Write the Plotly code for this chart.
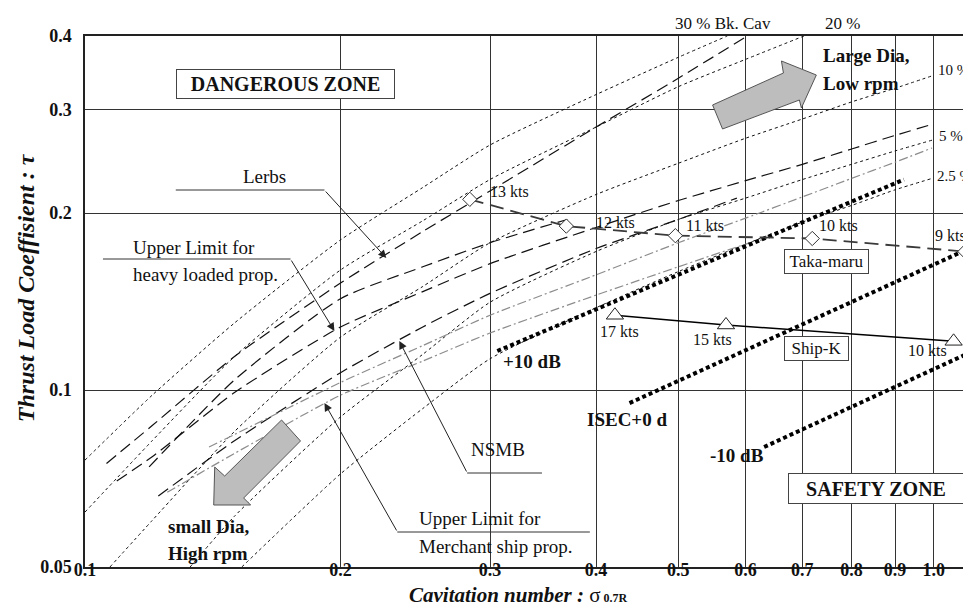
import math
import plotly.graph_objects as go

# ---------------- data ----------------
X_TICKS = [0.1, 0.2, 0.3, 0.4, 0.5, 0.6, 0.7, 0.8, 0.9, 1.0]
X_TICK_TEXT = ["0.1", "0.2", "0.3", "0.4", "0.5", "0.6", "0.7", "0.8", "0.9", "1.0"]
Y_TICKS = [0.05, 0.1, 0.2, 0.3, 0.4]
Y_TICK_TEXT = ["0.05", "0.1", "0.2", "0.3", "0.4"]

# Burrill back-cavitation lines (short dotted)
B30_SIGMA = [0.1, 0.12, 0.15, 0.2, 0.25, 0.3, 0.4, 0.5, 0.571]
B30_TAU = [0.076, 0.098, 0.130, 0.180, 0.221, 0.261, 0.318, 0.368, 0.400]
B20_SIGMA = [0.1, 0.12, 0.15, 0.2, 0.25, 0.3, 0.4, 0.5, 0.6, 0.703]
B20_TAU = [0.062, 0.082, 0.114, 0.160, 0.194, 0.228, 0.280, 0.328, 0.365, 0.400]
B10_SIGMA = [0.107, 0.12, 0.15, 0.2, 0.25, 0.3, 0.4, 0.5, 0.6, 0.7, 0.8, 0.9, 1.0]
B10_TAU = [0.050, 0.060, 0.085, 0.123, 0.150, 0.178, 0.215, 0.243, 0.268, 0.289, 0.309, 0.326, 0.343]
B5_SIGMA = [0.133, 0.15, 0.2, 0.25, 0.3, 0.4, 0.5, 0.6, 0.7, 0.8, 0.9, 0.995]
B5_TAU = [0.050, 0.061, 0.090, 0.115, 0.141, 0.172, 0.195, 0.212, 0.228, 0.242, 0.255, 0.266]
B25_SIGMA = [0.153, 0.2, 0.25, 0.3, 0.4, 0.5, 0.6, 0.7, 0.8, 0.9, 0.995]
B25_TAU = [0.050, 0.072, 0.093, 0.113, 0.138, 0.159, 0.177, 0.193, 0.206, 0.219, 0.229]

# criteria lines (long dash)
LERBS_SIGMA = [0.106, 0.12, 0.15, 0.2, 0.25, 0.3, 0.4, 0.5, 0.603]
LERBS_TAU = [0.075, 0.087, 0.114, 0.152, 0.186, 0.218, 0.280, 0.339, 0.400]
HEAVY_SIGMA = [0.109, 0.12, 0.15, 0.2, 0.25, 0.3, 0.4, 0.5, 0.6, 0.7, 0.8, 0.9, 0.987]
HEAVY_TAU = [0.070, 0.077, 0.099, 0.128, 0.147, 0.164, 0.189, 0.210, 0.227, 0.242, 0.257, 0.271, 0.282]
NSMB_SIGMA = [0.122, 0.15, 0.2, 0.25, 0.3, 0.4, 0.5, 0.586]
NSMB_TAU = [0.066, 0.082, 0.107, 0.128, 0.146, 0.174, 0.195, 0.212]
EXTRA_SIGMA = [0.119, 0.15, 0.2, 0.25, 0.3, 0.37]
EXTRA_TAU = [0.074, 0.104, 0.143, 0.162, 0.178, 0.195]

# grey dash-dot lines
MERCH_SIGMA = [0.125, 0.15, 0.2, 0.25, 0.3, 0.4, 0.5, 0.6, 0.636]
MERCH_TAU = [0.067, 0.078, 0.098, 0.112, 0.125, 0.145, 0.162, 0.177, 0.181]
GRAY2_SIGMA = [0.14, 0.15, 0.2, 0.25, 0.3, 0.4, 0.5, 0.6, 0.7, 0.8, 0.9, 0.995]
GRAY2_TAU = [0.080, 0.084, 0.103, 0.119, 0.134, 0.157, 0.178, 0.196, 0.213, 0.229, 0.244, 0.258]

# ship data
TAKA_SIGMA = [0.284, 0.369, 0.496, 0.719, 1.088]
TAKA_TAU = [0.211, 0.190, 0.183, 0.181, 0.172]
TAKA_LABELS = ["13 kts", "12 kts", "11 kts", "10 kts", "9 kts"]
SHIPK_SIGMA = [0.421, 0.569, 1.055]
SHIPK_TAU = [0.134, 0.129, 0.121]
SHIPK_LABELS = ["17 kts", "15 kts", "10 kts"]

# noise criteria lines
P10_SIGMA = [0.306, 0.922]
P10_TAU = [0.1165, 0.228]
ISEC_SIGMA = [0.438, 1.1]
ISEC_TAU = [0.095, 0.174]
M10_SIGMA = [0.631, 1.1]
M10_TAU = [0.080, 0.1156]

# ---------------- figure ----------------
FONT = "Liberation Serif"
W, H = 971, 610
L, R, T, B = 77, 8, 28, 51
PW, PH = W - L - R, H - T - B


def P(px, py):
    """pixel position in the page -> paper coordinates"""
    return (px - L) / PW, (H - B - py) / PH


fig = go.Figure()

DOT = "3px,3px"
LONG = "12px,6px"
DASHDOT = "9px,3px,2px,3px"


def add_line(xs, ys, color="black", dash=DOT, width=1.0):
    fig.add_trace(go.Scatter(x=xs, y=ys, mode="lines",
                             line=dict(color=color, dash=dash, width=width, shape="spline", smoothing=0.6),
                             hoverinfo="skip", showlegend=False))


for xs, ys in [(B30_SIGMA, B30_TAU), (B20_SIGMA, B20_TAU), (B10_SIGMA, B10_TAU),
               (B5_SIGMA, B5_TAU), (B25_SIGMA, B25_TAU)]:
    add_line(xs, ys, "#111", DOT, 1.0)

for xs, ys in [(LERBS_SIGMA, LERBS_TAU), (HEAVY_SIGMA, HEAVY_TAU),
               (NSMB_SIGMA, NSMB_TAU), (EXTRA_SIGMA, EXTRA_TAU)]:
    add_line(xs, ys, "#111", LONG, 1.2)

for xs, ys in [(MERCH_SIGMA, MERCH_TAU), (GRAY2_SIGMA, GRAY2_TAU)]:
    add_line(xs, ys, "#8c8c8c", DASHDOT, 1.2)

# noise lines (thick square dots)
for xs, ys in [(P10_SIGMA, P10_TAU), (ISEC_SIGMA, ISEC_TAU), (M10_SIGMA, M10_TAU)]:
    fig.add_trace(go.Scatter(x=xs, y=ys, mode="lines",
                             line=dict(color="black", dash="4px,3px", width=4),
                             hoverinfo="skip", showlegend=False))

# Taka-maru
fig.add_trace(go.Scatter(x=TAKA_SIGMA, y=TAKA_TAU, mode="lines+markers",
                         line=dict(color="#3a3a3a", dash="14px,7px", width=1.8),
                         marker=dict(symbol="diamond", size=11, color="white",
                                     line=dict(color="#333", width=1)),
                         hoverinfo="skip", showlegend=False))
# Ship-K
fig.add_trace(go.Scatter(x=SHIPK_SIGMA, y=SHIPK_TAU, mode="lines+markers",
                         line=dict(color="black", width=1.6),
                         marker=dict(symbol="triangle-up", size=15, color="white",
                                     line=dict(color="#222", width=1)),
                         hoverinfo="skip", showlegend=False))

ann = []


def text(px, py, s, size=17, bold=False, xanchor="center", **kw):
    x, y = P(px, py)
    ann.append(dict(x=x, y=y, xref="paper", yref="paper", text=s, showarrow=False,
                    xanchor=xanchor, yanchor="middle",
                    font=dict(family=FONT, size=size, color="#111",
                              weight="bold" if bold else "normal"), **kw))


# speed labels tied to the data points
TAKA_SHIFT = [(40, 8), (49, 4), (30, 10), (26, 13), (-14, 16)]
SHIPK_SHIFT = [(5, -16), (-13, -15), (-26, -9)]
for sx, sy, lab, (dx, dy) in zip(TAKA_SIGMA, TAKA_TAU, TAKA_LABELS, TAKA_SHIFT):
    ann.append(dict(x=math.log10(sx), y=math.log10(sy), xref="x", yref="y", text=lab,
                    showarrow=False, xshift=dx, yshift=dy,
                    font=dict(family=FONT, size=16, color="#111")))
for sx, sy, lab, (dx, dy) in zip(SHIPK_SIGMA, SHIPK_TAU, SHIPK_LABELS, SHIPK_SHIFT):
    ann.append(dict(x=math.log10(sx), y=math.log10(sy), xref="x", yref="y", text=lab,
                    showarrow=False, xshift=dx, yshift=dy,
                    font=dict(family=FONT, size=16, color="#111")))

# line labels
text(716, 16, "30 % Bk. Cav", 17)
text(836, 16, "20 %", 17)
text(930, 62, "10 %", 15, xanchor="left")
text(931, 128, "5 %", 15, xanchor="left")
text(929, 168, "2.5 %", 15, xanchor="left")

text(257, 168, "Lerbs", 19)
text(123, 239, "Upper Limit for", 19, xanchor="left")
text(123, 266, "heavy loaded prop.", 19, xanchor="left")
text(491, 441, "NSMB", 19)
text(410, 511, "Upper Limit for", 19, xanchor="left")
text(410, 538, "Merchant ship prop.", 19, xanchor="left")

text(815, 48, "Large Dia,", 19, True, xanchor="left")
text(815, 75, "Low rpm", 19, True, xanchor="left")
text(158, 518, "small Dia,", 19, True, xanchor="left")
text(158, 545, "High rpm", 19, True, xanchor="left")

text(525, 353, "+10 dB", 19, True)
text(620, 411, "ISEC+0 d", 19, True)
text(730, 447, "-10 dB", 19, True)


def box(px, py, s, w, h, size, bold):
    x, y = P(px, py)
    ann.append(dict(x=x, y=y, xref="paper", yref="paper", text=s, showarrow=False,
                    xanchor="center", yanchor="middle", width=w, height=h,
                    bgcolor="white", bordercolor="#444", borderwidth=1, borderpad=1,
                    font=dict(family=FONT, size=size, color="#111",
                              weight="bold" if bold else "normal")))


box(278, 76, "DANGEROUS ZONE", 215, 26, 20, True)
box(870, 480, "SAFETY ZONE", 172, 27, 20, True)
box(820, 253, "Taka-maru", 81, 21, 17, False)
box(810, 341, "Ship-K", 61, 21, 17, False)

# leader lines with arrow heads
shapes = []
LEADERS = [((168, 182), (317, 182), (379, 250)),
           ((95, 251), (283, 251), (327, 323)),
           ((535, 465), (460, 465), (392, 333)),
           ((583, 524), (390, 524), (317, 395))]
for (ax0, ay0), (bx, by), (tx, ty) in LEADERS:
    x0, y0 = P(ax0, ay0)
    x1, y1 = P(bx, by)
    shapes.append(dict(type="line", xref="paper", yref="paper", x0=x0, y0=y0, x1=x1, y1=y1,
                       line=dict(color="#333", width=1), layer="above"))
    tx_, ty_ = P(tx, ty)
    ann.append(dict(x=tx_, y=ty_, xref="paper", yref="paper", text="", showarrow=True,
                    ax=bx - tx, ay=by - ty, axref="pixel", ayref="pixel",
                    arrowhead=2, arrowsize=1.6, arrowwidth=1, arrowcolor="#222", standoff=0))


def poly(pts):
    s = ""
    for i, (px, py) in enumerate(pts):
        x, y = P(px, py)
        s += ("M" if i == 0 else "L") + f"{x:.5f},{y:.5f} "
    return s + "Z"


shapes.append(dict(type="path", xref="paper", yref="paper",
                   path=poly([(706, 97), (777, 65), (775, 53), (810, 67), (795, 100), (793, 92), (716, 121)]),
                   fillcolor="#bdbdbd", line=dict(color="#555", width=1), layer="above"))
shapes.append(dict(type="path", xref="paper", yref="paper",
                   path=poly([(274, 412), (293, 433), (236, 490), (243, 497), (206, 497), (207, 459), (217, 468)]),
                   fillcolor="#bdbdbd", line=dict(color="#555", width=1), layer="above"))

# axis titles
xt, yt = P(18, 280)
ann.append(dict(x=xt, y=yt, xref="paper", yref="paper", textangle=-90, showarrow=False,
                xanchor="center", yanchor="middle",
                text="<b><i>Thrust Load Coeffisient : τ</i></b>",
                font=dict(family=FONT, size=24, color="#111")))
xt, yt = P(511, 587)
ann.append(dict(x=xt, y=yt, xref="paper", yref="paper", showarrow=False,
                xanchor="center", yanchor="middle",
                text="<b><i>Cavitation number : </i></b>σ"
                     "<span style='font-size:12px'><b> 0.7R</b></span>",
                font=dict(family=FONT, size=21, color="#111")))

axis_common = dict(type="log", showgrid=True, gridcolor="#333", gridwidth=1,
                   showline=True, linecolor="#222", linewidth=1.5, mirror=True,
                   ticks="", ticklen=0, zeroline=False,
                   tickfont=dict(family=FONT, size=18, color="#111", weight="bold"))

fig.update_layout(
    width=W, height=H,
    margin=dict(l=L, r=R, t=T, b=B),
    paper_bgcolor="white", plot_bgcolor="white",
    showlegend=False,
    font=dict(family=FONT),
    xaxis=dict(range=[-1, math.log10(1.1)], tickvals=X_TICKS, ticktext=X_TICK_TEXT,
               ticklabelstandoff=-14, **axis_common),
    yaxis=dict(range=[math.log10(0.05), math.log10(0.4)], tickvals=Y_TICKS, ticktext=Y_TICK_TEXT,
               ticklabelstandoff=8, **axis_common),
    annotations=ann,
    shapes=shapes,
)

fig.write_html("out.html")
